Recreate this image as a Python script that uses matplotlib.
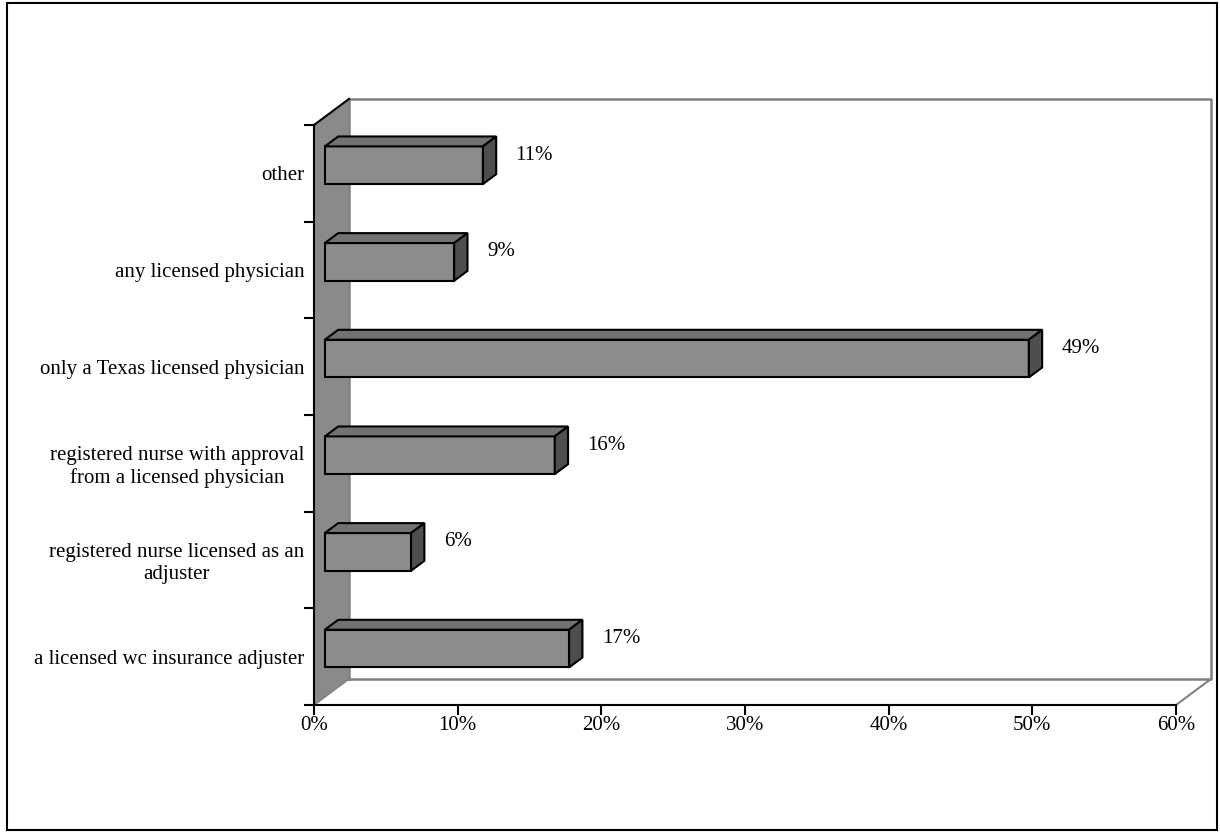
import matplotlib
matplotlib.use("Agg")
import matplotlib.pyplot as plt
from matplotlib.patches import Polygon, Rectangle

categories = [
    "a licensed wc insurance adjuster",
    "registered nurse licensed as an\nadjuster",
    "registered nurse with approval\nfrom a licensed physician",
    "only a Texas licensed physician",
    "any licensed physician",
    "other",
]
values = [17, 6, 16, 49, 9, 11]
value_labels = ["17%", "6%", "16%", "49%", "9%", "11%"]
xticks = [0, 10, 20, 30, 40, 50, 60]
xticklabels = ["0%", "10%", "20%", "30%", "40%", "50%", "60%"]

plt.rcParams['font.family'] = ['Liberation Serif', 'DejaVu Serif']
FS = 15

W, H = 1220, 833
fig = plt.figure(figsize=(W / 100, H / 100), dpi=100)
ax = fig.add_axes([314 / W, (H - 705) / H, (1176 - 314) / W, (705 - 125) / H])
ax.set_xlim(0, 60)
ax.set_ylim(-0.5, 5.5)

# depth offsets (data units)
DX = 2.44
DY = 0.27
d0, d1 = 0.31, 0.69
bh = 0.39

# left wall
ax.add_patch(Polygon([(0, -0.5), (DX, -0.5 + DY), (DX, 5.5 + DY), (0, 5.5)],
                     closed=True, facecolor="#8a8a8a", edgecolor="none",
                     zorder=1, clip_on=False))
ax.plot([0, DX], [5.5, 5.5 + DY], color="black", lw=1.5, clip_on=False, zorder=3)
ax.plot([0, DX], [-0.5, -0.5 + DY], color="#808080", lw=1.2, clip_on=False, zorder=2)
# back wall and floor
ax.plot([DX, DX, 60 + DX, 60 + DX, DX], [-0.5 + DY, 5.5 + DY, 5.5 + DY, -0.5 + DY, -0.5 + DY],
        color="#808080", lw=1.8, clip_on=False, zorder=2)
ax.plot([60, 60 + DX], [-0.5, -0.5 + DY], color="#808080", lw=1.5, clip_on=False, zorder=2)

# bars
for i, v in enumerate(values):
    yb = i - bh / 2
    x0f, y0f = d0 * DX, yb + d0 * DY
    x0b, y0b = d1 * DX, yb + d1 * DY
    ax.barh(i + d0 * DY, v, left=x0f, height=bh, color="#8c8c8c",
            edgecolor="black", linewidth=1.5, zorder=5)
    # top face
    ax.add_patch(Polygon([(x0f, y0f + bh), (x0f + v, y0f + bh),
                          (x0b + v, y0b + bh), (x0b, y0b + bh)],
                         closed=True, facecolor="#727272", edgecolor="black",
                         linewidth=1.5, zorder=5, clip_on=False))
    # side face
    ax.add_patch(Polygon([(x0f + v, y0f), (x0b + v, y0b),
                          (x0b + v, y0b + bh), (x0f + v, y0f + bh)],
                         closed=True, facecolor="#4e4e4e", edgecolor="black",
                         linewidth=1.5, zorder=5, clip_on=False))
    ax.annotate(value_labels[i], xy=(x0b + v, i + d1 * DY), xytext=(14, 0),
                textcoords="offset points", ha="left", va="center", fontsize=FS,
                zorder=6)

for s in ["top", "right"]:
    ax.spines[s].set_visible(False)
for s in ["left", "bottom"]:
    ax.spines[s].set_linewidth(1.5)
    ax.spines[s].set_zorder(4)
ax.patch.set_alpha(0)

ax.set_yticks(range(len(categories)))
ax.set_yticklabels(categories, fontsize=FS, multialignment="center")
ax.set_yticks([i - 0.5 for i in range(len(categories) + 1)], minor=True)
ax.tick_params(axis="y", which="major", length=0, pad=7)
ax.tick_params(axis="y", which="minor", length=7, width=1.5, direction="out")
ax.set_xticks(xticks)
ax.set_xticklabels(xticklabels, fontsize=FS)
ax.tick_params(axis="x", which="major", length=7, width=1.5, direction="out", pad=1)

fig.patches.append(Rectangle((7 / W, 3 / H), (1217 - 7) / W, (830 - 3) / H,
                             transform=fig.transFigure, fill=False,
                             edgecolor="black", linewidth=1.5))

fig.savefig("out.png", dpi=100)
